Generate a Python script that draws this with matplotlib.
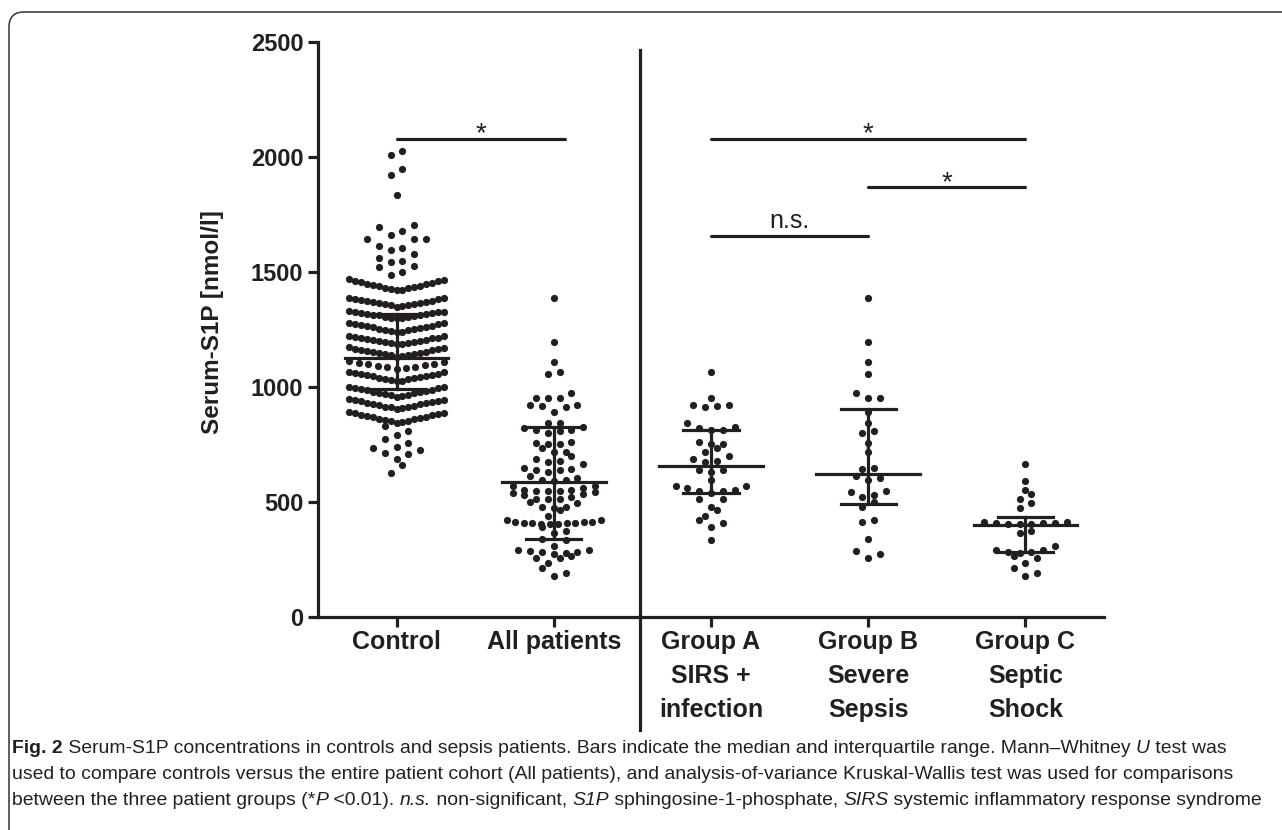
"""
Serum-S1P: kontrole vs. pacijenti sa sepsom (scatter sa medijanom i IQR).
"""

import numpy as np
import matplotlib
matplotlib.use("Agg")
import matplotlib.pyplot as plt
from matplotlib import transforms
from matplotlib.font_manager import FontProperties
from matplotlib.patches import FancyBboxPatch
from matplotlib.lines import Line2D

categories = ["Control", "All patients", "Group A\nSIRS +\ninfection",
              "Group B\nSevere\nSepsis", "Group C\nSeptic\nShock"]

control = [
    625, 662, 686, 710, 714, 726, 733, 740, 755, 774, 793, 809, 830,
    845, 848, 851, 853, 856, 860, 862, 865, 869, 871, 874, 878, 880, 883, 887, 889, 892,
    905, 908, 911, 913, 915, 918, 921, 924, 926, 929, 931, 934, 937, 940, 942, 944, 946,
    958, 961, 964, 966, 969, 972, 975, 978, 980, 983, 986, 988, 991, 994, 996, 999, 1001,
    1025, 1027, 1030, 1033, 1035, 1038, 1040, 1043, 1046, 1048, 1051, 1054, 1056, 1058, 1061, 1064, 1066,
    1078, 1082, 1085, 1089, 1092, 1095, 1099, 1102, 1105, 1109, 1112,
    1132, 1134, 1137, 1140, 1142, 1144, 1147, 1150, 1152, 1154, 1157, 1160, 1162, 1164, 1167, 1170, 1172,
    1186, 1188, 1191, 1193, 1195, 1197, 1200, 1202, 1204, 1206, 1209, 1211, 1213, 1215, 1218, 1220, 1222,
    1238, 1240, 1243, 1246, 1248, 1251, 1253, 1256, 1259, 1261, 1264, 1267, 1269, 1272, 1275, 1277, 1280,
    1298, 1300, 1302, 1305, 1306, 1308, 1311, 1312, 1314, 1317, 1318, 1320, 1323, 1324, 1326, 1328, 1330,
    1350, 1352, 1355, 1357, 1360, 1362, 1364, 1367, 1369, 1371, 1374, 1376, 1379, 1381, 1383, 1386, 1388,
    1420, 1423, 1426, 1429, 1432, 1435, 1438, 1441, 1444, 1447, 1450, 1453, 1456, 1459, 1462, 1465, 1468,
    1485, 1501, 1522, 1525, 1543, 1546, 1559, 1580, 1597, 1606, 1614, 1642, 1643, 1645,
    1662, 1678, 1696, 1706, 1836, 1920, 1948, 2010, 2025,
]
group_a = [1066, 951, 922, 922, 919, 914, 842, 827, 820, 813, 813, 762, 751, 751,
           736, 716, 700, 687, 678, 675, 639, 639, 632, 596, 571, 570, 562, 552,
           548, 548, 538, 514, 512, 480, 465, 439, 422, 407, 393, 335]
group_b = [1385, 1195, 1110, 1055, 973, 953, 951, 893, 842, 809, 801, 758, 719,
           649, 642, 613, 603, 596, 549, 545, 530, 523, 499, 480, 422, 412, 338,
           288, 274, 258]
group_c = [665, 591, 552, 533, 513, 497, 475, 412, 412, 410, 410, 408, 406, 403,
           403, 375, 364, 309, 291, 291, 284, 284, 280, 265, 255, 233, 212, 190, 180]
all_patients = group_a + group_b + group_c

medians = [1127, 585, 656, 622, 398]
q1 = [990, 340, 538, 492, 281]
q3 = [1317, 827, 813, 905, 436]

sig_x0 = [0, 2, 3, 2]
sig_x1 = [1.07, 4, 4, 3]
sig_y = [2080, 2080, 1868, 1655]
sig_text = ["*", "*", "*", "n.s."]

INK = "#231f20"
W, H = 1282, 830


def swarm(values, bin_h, step=0.075, max_half=0.30):
    """Rasporedi tacke po redovima (beeswarm), najniza vrednost u centru reda."""
    vals = np.sort(np.asarray(values, dtype=float))
    offs = np.zeros(len(vals))
    i = 0
    while i < len(vals):
        j = i
        while j < len(vals) and vals[j] < vals[i] + bin_h:
            j += 1
        n = j - i
        s = step if n == 1 else min(step, 2 * max_half / (n - 1))
        for k in range(n):
            if n % 2:
                m, sign = (k + 1) // 2, (1 if k % 2 else -1)
                offs[i + k] = sign * m * s
            else:
                m, sign = k // 2, (-1 if k % 2 == 0 else 1)
                offs[i + k] = sign * (m + 0.5) * s
        i = j
    return vals, offs


fig = plt.figure(figsize=(W / 100, H / 100), dpi=100)
ax = fig.add_axes([318 / W, 1 - 617 / H, (1104 - 318) / W, (617 - 42) / H])

groups = [control, all_patients, group_a, group_b, group_c]
bins = [50, 35, 35, 35, 35]
for pos, (data, bh) in enumerate(zip(groups, bins)):
    y, dx = swarm(data, bh)
    ax.scatter(pos + dx, y, s=27, color=INK, linewidths=0, zorder=3, clip_on=False)

    ax.plot([pos - 0.33, pos + 0.33], [medians[pos]] * 2, color=INK, lw=2.3, zorder=4)
    ax.plot([pos - 0.175, pos + 0.175], [q1[pos]] * 2, color=INK, lw=2.3, zorder=4)
    ax.plot([pos - 0.175, pos + 0.175], [q3[pos]] * 2, color=INK, lw=2.3, zorder=4)
    ax.plot([pos, pos], [q1[pos], q3[pos]], color=INK, lw=2.3, zorder=4)

for x0, x1, yy, lab in zip(sig_x0, sig_x1, sig_y, sig_text):
    ax.plot([x0, x1], [yy, yy], color=INK, lw=2.3, solid_capstyle="round", clip_on=False)
    if lab == "*":
        ax.text((x0 + x1) / 2, yy - 12, lab, ha="center", va="baseline",
                fontsize=20, family="Liberation Sans", color=INK)
    else:
        ax.text((x0 + x1) / 2, yy + 35, lab, ha="center", va="baseline",
                fontsize=18, family="Liberation Sans", color=INK)

# vertikalna linija izmedju kontrola i grupa
trans = transforms.blended_transform_factory(ax.transData, fig.transFigure)
ax.add_line(Line2D([1.55, 1.55], [1 - 50 / H, 1 - 730 / H], transform=trans,
                   color=INK, lw=2.3, clip_on=False))

ax.set_xlim(-0.5, 4.5)
ax.set_ylim(0, 2500)
ax.set_yticks([0, 500, 1000, 1500, 2000, 2500])
ax.set_xticks(range(5))
ax.set_xticklabels(categories, fontsize=18, fontweight="bold", family="Liberation Sans",
                   linespacing=1.53, color=INK)
for t in ax.get_yticklabels():
    t.set_fontsize(17)
    t.set_fontweight("bold")
    t.set_family("Liberation Sans")
    t.set_color(INK)
for side in ["top", "right"]:
    ax.spines[side].set_visible(False)
for side in ["left", "bottom"]:
    ax.spines[side].set_linewidth(2.3)
    ax.spines[side].set_color(INK)
ax.tick_params(axis="y", length=7.5, width=2.3, pad=3, color=INK)
ax.tick_params(axis="x", length=7.5, width=2.3, pad=2, color=INK)

fig.text(212 / W, 1 - 322 / H, "Serum-S1P [nmol/l]", rotation=90, ha="center",
         va="center", fontsize=17.5, fontweight="bold", family="Liberation Sans", color=INK)

# okvir
frame = FancyBboxPatch((9, -30), 1320, H - 12 + 30, boxstyle="round,pad=0,rounding_size=15",
                       transform=transforms.IdentityTransform(), facecolor="none",
                       edgecolor="#333333", lw=1.1)
fig.add_artist(frame)

# potpis
lines = [
    [("Fig. 2", "bold"), (" Serum-S1P concentrations in controls and sepsis patients. Bars indicate "
                          "the median and interquartile range. Mann\u2013Whitney ", "normal"),
     ("U", "italic"), (" test was", "normal")],
    [("used to compare controls versus the entire patient cohort (All patients), and analysis-of-"
      "variance Kruskal-Wallis test was used for comparisons", "normal")],
    [("between the three patient groups (*", "normal"), ("P", "italic"), (" <0.01). ", "normal"),
     ("n.s.", "italic"), (" non-significant, ", "normal"), ("S1P", "italic"),
     (" sphingosine-1-phosphate, ", "normal"), ("SIRS", "italic"),
     (" systemic inflammatory response syndrome", "normal")],
]

renderer = fig.canvas.get_renderer()


def fprops(style, size):
    kw = dict(family="Liberation Sans", stretch="condensed", size=size)
    if style == "bold":
        kw["weight"] = "bold"
    if style == "italic":
        kw["style"] = "italic"
    return FontProperties(**kw)


def run_width(s, fp):
    w1 = renderer.get_text_width_height_descent("x" + s + "x", fp, ismath=False)[0]
    w0 = renderer.get_text_width_height_descent("xx", fp, ismath=False)[0]
    return w1 - w0


base = 13
widest = max(sum(run_width(s, fprops(st, base)) for s, st in runs) for runs in lines)
size = base * 1241 / widest

baselines = [753, 779, 805]
for runs, yb in zip(lines, baselines):
    x = 12
    for s, st in runs:
        fp = fprops(st, size)
        fig.text(x / W, 1 - yb / H, s, fontproperties=fp, va="baseline", ha="left", color=INK)
        x += run_width(s, fp)

fig.savefig("out.png", dpi=100)
